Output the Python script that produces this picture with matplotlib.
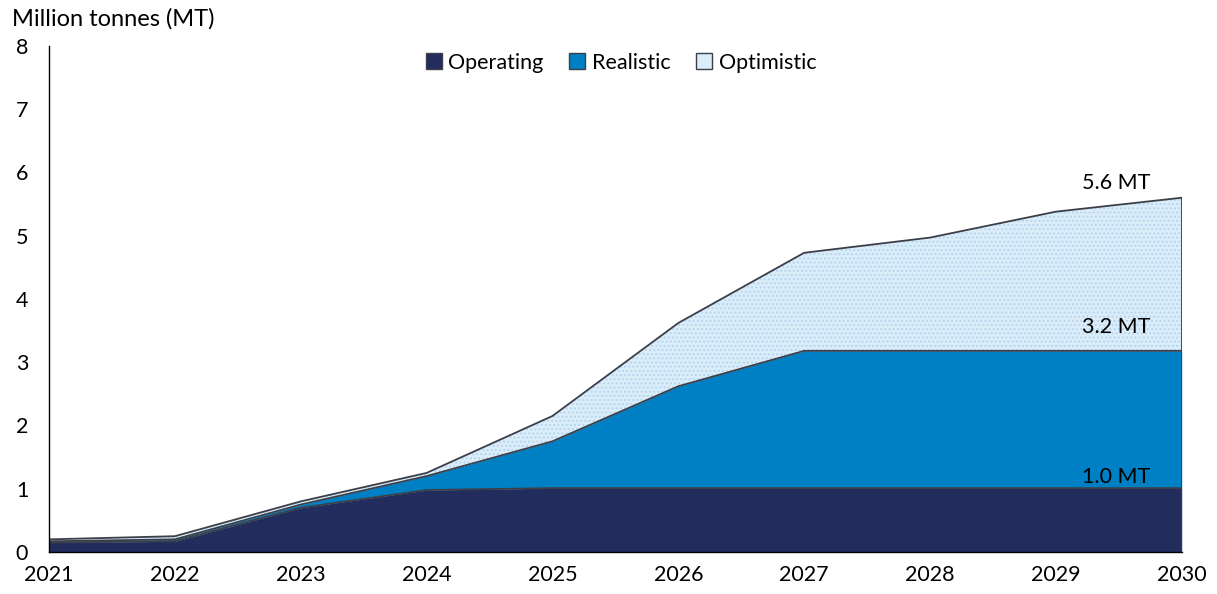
import matplotlib
matplotlib.use("Agg")
import matplotlib.pyplot as plt
import numpy as np
from matplotlib.patches import Patch

plt.rcParams['font.family'] = ['Lato', 'DejaVu Sans']

# data (MT), incremental layers
years = [2021, 2022, 2023, 2024, 2025, 2026, 2027, 2028, 2029, 2030]
operating = [0.15, 0.17, 0.70, 0.98, 1.01, 1.01, 1.01, 1.01, 1.01, 1.01]
realistic = [0.02, 0.03, 0.05, 0.22, 0.74, 1.61, 2.17, 2.17, 2.17, 2.17]
optimistic = [0.03, 0.05, 0.05, 0.05, 0.40, 1.00, 1.55, 1.79, 2.20, 2.42]
end_labels = ["1.0 MT", "3.2 MT", "5.6 MT"]

c_op = "#222d5e"
c_re = "#0080c4"
c_opt = "#dcedfa"
c_line = "#3c3f48"

x = np.array(years)
l1 = np.array(operating)
l2 = l1 + np.array(realistic)
l3 = l2 + np.array(optimistic)

fig = plt.figure(figsize=(12.17, 5.94), dpi=100)
ax = fig.add_axes([0.0403, 0.0707, 0.9307, 0.852])

ax.fill_between(x, 0, l1, color=c_op, linewidth=0)
ax.fill_between(x, l1, l2, color=c_re, linewidth=0)
ax.fill_between(x, l2, l3, facecolor=c_opt, edgecolor="#b5d6f0", hatch="....", linewidth=0)

for top in (l1, l2, l3):
    ax.plot(x, top, color=c_line, lw=1.3)
ax.plot([x[-1], x[-1]], [0, l3[-1]], color=c_line, lw=1.3)

ax.set_xlim(years[0], years[-1])
ax.set_ylim(0, 8)
ax.set_xticks(years)
ax.set_yticks(range(0, 9))
ax.tick_params(length=0, labelsize=15.5, colors="black")
ax.tick_params(axis="x", pad=9)
ax.tick_params(axis="y", pad=15)
for s in ("top", "right"):
    ax.spines[s].set_visible(False)
for s in ("left", "bottom"):
    ax.spines[s].set_color("black")
    ax.spines[s].set_linewidth(1.0)

xl = years[-1] - 0.52
ax.text(xl, l1[-1] + 0.18, end_labels[0], ha="center", va="center", fontsize=15.5)
ax.text(xl, l2[-1] + 0.38, end_labels[1], ha="center", va="center", fontsize=15.5)
ax.text(xl, l3[-1] + 0.24, end_labels[2], ha="center", va="center", fontsize=15.5)

fig.text(0.01, 0.968, "Million tonnes (MT)", ha="left", va="center", fontsize=17)

handles = [Patch(facecolor=c_op, edgecolor=c_line),
           Patch(facecolor=c_re, edgecolor=c_line),
           Patch(facecolor=c_opt, edgecolor=c_line)]
ax.legend(handles, ["Operating", "Realistic", "Optimistic"], loc="upper center",
          bbox_to_anchor=(0.505, 1.025), ncol=3, frameon=False, fontsize=15.5,
          handlelength=0.75, handleheight=0.75, handletextpad=0.3, columnspacing=1.2)

fig.savefig("out.png", dpi=100)
